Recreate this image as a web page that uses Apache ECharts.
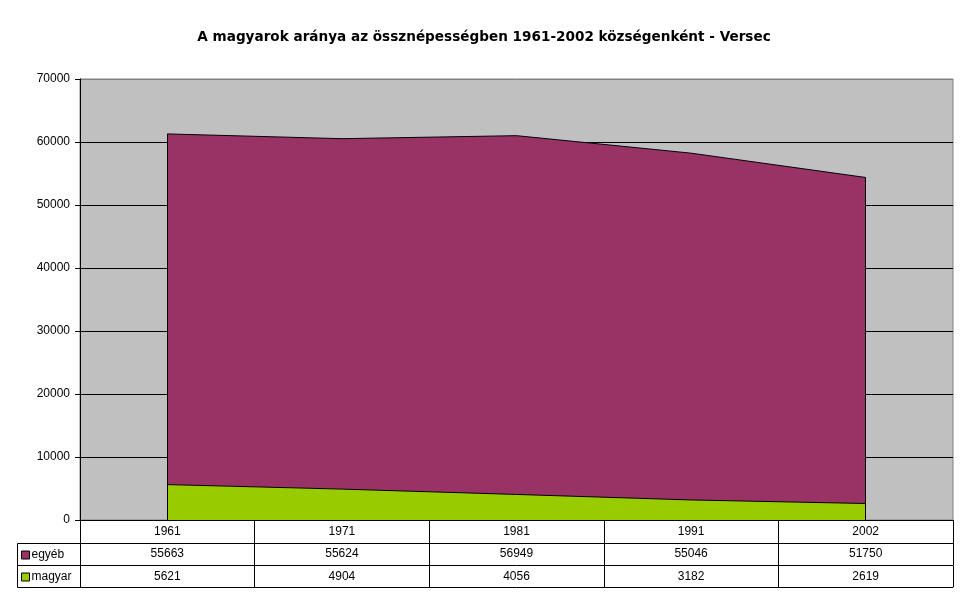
<!DOCTYPE html>
<html>
<head>
<meta charset="utf-8">
<script src="https://cdn.jsdelivr.net/npm/echarts@6/dist/echarts.min.js"></script>
<style>
  html, body { margin: 0; padding: 0; background: #fff; }
  #chart { width: 968px; height: 604px; }
</style>
</head>
<body>
<div id="chart"></div>
<script>
var years = ['1961', '1971', '1981', '1991', '2002'];
var egyeb = [55663, 55624, 56949, 55046, 51750];
var magyar = [5621, 4904, 4056, 3182, 2619];

var font = 'Arial, "Liberation Sans", sans-serif';
var chart = echarts.init(document.getElementById('chart'));

var last = years.length - 1;
var totalFirst = egyeb[0] + magyar[0];
var totalLast = egyeb[last] + magyar[last];

// table rows under the plot are extra category axes
function tableAxis(data, offset, tickLen, margin) {
    return {
        type: 'category',
        position: 'bottom',
        offset: offset,
        data: data,
        boundaryGap: true,
        axisLine: { show: true, lineStyle: { color: '#000', width: 1 } },
        axisTick: { show: true, length: tickLen, lineStyle: { color: '#000' } },
        axisLabel: { color: '#000', fontFamily: font, fontSize: 12, margin: margin, interval: 0 },
        splitLine: { show: false }
    };
}

var option = {
    backgroundColor: '#fff',
    animation: false,
    title: {
        text: 'A magyarok aránya az össznépességben 1961-2002 községenként - Versec',
        left: 'center',
        top: 25,
        textStyle: { fontFamily: '"DejaVu Sans", Arial, sans-serif', fontSize: 13.6, fontWeight: 'bold', color: '#000' }
    },
    legend: {
        orient: 'vertical',
        left: 21,
        top: 548,
        padding: 0,
        itemGap: 8,
        itemWidth: 8,
        itemHeight: 8,
        icon: 'rect',
        data: ['egyéb', 'magyar'],
        textStyle: { fontFamily: font, fontSize: 12, color: '#000', lineHeight: 14, padding: [0, 0, 0, -3] },
        itemStyle: { borderColor: '#000', borderWidth: 1 }
    },
    grid: {
        left: 80, right: 15, top: 79, bottom: 84,
        show: true,
        backgroundColor: '#c0c0c0',
        borderColor: '#808080',
        borderWidth: 1
    },
    xAxis: [
        tableAxis(years, 0, 23, 6),
        tableAxis(egyeb.map(String), 23, 22, 5),
        tableAxis(magyar.map(String), 45.5, 21.5, 5),
        {
            type: 'category', position: 'bottom', offset: 67, data: years,
            axisLine: { show: true, lineStyle: { color: '#000' } },
            axisTick: { show: false }, axisLabel: { show: false }
        }
    ],
    yAxis: {
        type: 'value',
        min: 0,
        max: 70000,
        interval: 10000,
        axisLine: { show: true, lineStyle: { color: '#000' } },
        axisTick: { show: true, length: 5, lineStyle: { color: '#000' } },
        axisLabel: {
            color: '#000', fontFamily: font, fontSize: 12, margin: 10,
            formatter: function (v) { return String(v); }
        },
        splitLine: {
            show: true,
            lineStyle: {
                color: ['#000', '#000', '#000', '#000', '#000', '#000', '#000', '#808080'],
                width: 1
            }
        }
    },
    series: [
        {
            name: 'magyar',
            type: 'line',
            stack: 'total',
            xAxisIndex: 0,
            data: magyar,
            symbol: 'none',
            color: '#99cc00',
            lineStyle: { color: '#000', width: 1 },
            areaStyle: { color: '#99cc00', opacity: 1 }
        },
        {
            name: 'egyéb',
            type: 'line',
            stack: 'total',
            xAxisIndex: 0,
            data: egyeb,
            symbol: 'none',
            color: '#993366',
            lineStyle: { color: '#000', width: 1 },
            areaStyle: { color: '#993366', opacity: 1 },
            // black edges closing the stacked area at both ends
            markLine: {
                silent: true,
                symbol: 'none',
                label: { show: false },
                lineStyle: { color: '#000', width: 1, type: 'solid' },
                data: [
                    [{ coord: [years[0], 0] }, { coord: [years[0], totalFirst] }],
                    [{ coord: [years[last], 0] }, { coord: [years[last], totalLast] }]
                ]
            }
        }
    ],
    graphic: [
        // left part of the table, holding the legend
        { type: 'line', shape: { x1: 17.5, y1: 543.5, x2: 80, y2: 543.5 }, style: { stroke: '#000', lineWidth: 1 } },
        { type: 'line', shape: { x1: 17.5, y1: 565.5, x2: 80, y2: 565.5 }, style: { stroke: '#000', lineWidth: 1 } },
        { type: 'line', shape: { x1: 17.5, y1: 587.5, x2: 80, y2: 587.5 }, style: { stroke: '#000', lineWidth: 1 } },
        { type: 'line', shape: { x1: 17.5, y1: 543.5, x2: 17.5, y2: 587.5 }, style: { stroke: '#000', lineWidth: 1 } }
    ]
};
chart.setOption(option);
</script>
</body>
</html>
